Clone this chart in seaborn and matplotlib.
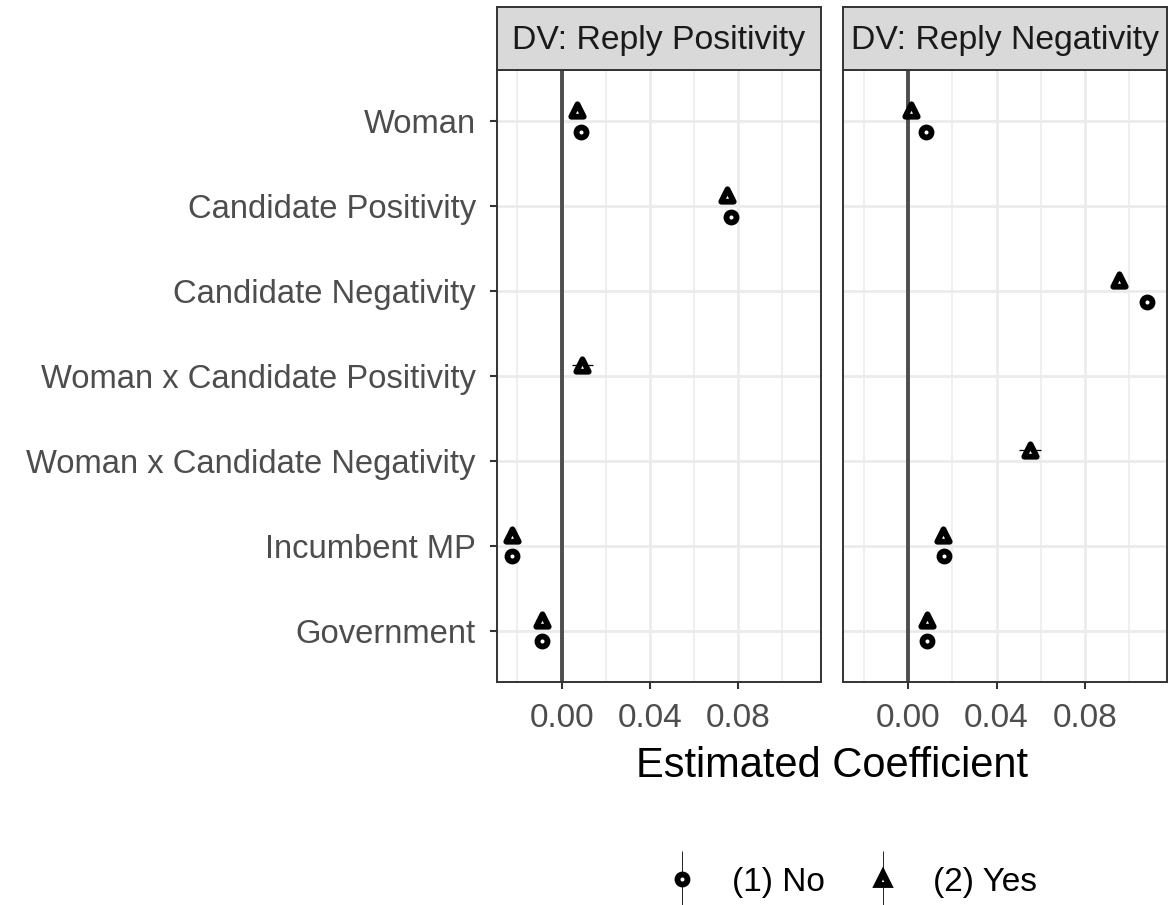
import numpy as np
import pandas as pd
import matplotlib
matplotlib.use("Agg")
import matplotlib.pyplot as plt
import seaborn as sns
from matplotlib.lines import Line2D
from matplotlib.legend_handler import HandlerTuple

# ---------------- data ----------------
terms = ["Woman", "Candidate Positivity", "Candidate Negativity",
         "Woman x Candidate Positivity", "Woman x Candidate Negativity",
         "Incumbent MP", "Government"]
panels = ["DV: Reply Positivity", "DV: Reply Negativity"]
models = ["(1) No", "(2) Yes"]
nan = np.nan

# DV: Reply Positivity
pos_no = [0.0086, 0.0768, nan, nan, nan, -0.0224, -0.0091]
pos_no_lo = [0.0076, 0.0755, nan, nan, nan, -0.0227, -0.0095]
pos_no_hi = [0.0096, 0.0781, nan, nan, nan, -0.0221, -0.0087]
pos_yes = [0.0068, 0.0750, nan, 0.0094, nan, -0.0224, -0.0091]
pos_yes_lo = [0.0058, 0.0737, nan, 0.0046, nan, -0.0227, -0.0095]
pos_yes_hi = [0.0078, 0.0763, nan, 0.0142, nan, -0.0221, -0.0087]

# DV: Reply Negativity
neg_no = [0.0080, nan, 0.1082, nan, nan, 0.0162, 0.0083]
neg_no_lo = [0.0070, nan, 0.1058, nan, nan, 0.0157, 0.0079]
neg_no_hi = [0.0090, nan, 0.1106, nan, nan, 0.0167, 0.0087]
neg_yes = [0.0012, nan, 0.0954, nan, 0.0552, 0.0158, 0.0083]
neg_yes_lo = [0.0002, nan, 0.0934, nan, 0.0503, 0.0153, 0.0079]
neg_yes_hi = [0.0022, nan, 0.0974, nan, 0.0601, 0.0163, 0.0087]

xticks = [0.00, 0.04, 0.08]
xtick_labels = ["0.00", "0.04", "0.08"]
minor_xticks = [-0.02, 0.02, 0.06, 0.10]

rows = []
for panel, series in [
    (panels[0], [(models[0], pos_no, pos_no_lo, pos_no_hi),
                 (models[1], pos_yes, pos_yes_lo, pos_yes_hi)]),
    (panels[1], [(models[0], neg_no, neg_no_lo, neg_no_hi),
                 (models[1], neg_yes, neg_yes_lo, neg_yes_hi)]),
]:
    for model, est, lo, hi in series:
        for i, t in enumerate(terms):
            rows.append(dict(panel=panel, model=model, term=t, idx=i,
                             est=est[i], lo=lo[i], hi=hi[i]))
df = pd.DataFrame(rows).dropna()

# ---------------- style ----------------
sns.set_theme(style="white")
plt.rcParams["font.family"] = ["Liberation Sans", "DejaVu Sans"]

W, H = 1174, 905
fig = plt.figure(figsize=(W / 100, H / 100), dpi=100)

dodge = {models[0]: 0.125, models[1]: -0.125}
marker_map = {models[0]: "o", models[1]: "^"}
size_map = {models[0]: 52, models[1]: 80}

border = "#333333"
grid_c = "#EBEBEB"
txt_c = "#4D4D4D"

ax_y0 = 1 - 681.7 / H
ax_h = (681.7 - 70) / H
ax_w = 324 / W
ax_x = [496.7 / W, 843.3 / W]
strip_h = (70 - 6.7) / H

for k, panel in enumerate(panels):
    ax = fig.add_axes([ax_x[k], ax_y0, ax_w, ax_h])
    sub = df[df.panel == panel].copy()
    sub["y"] = sub["idx"] + sub["model"].map(dodge)

    ax.set_xlim(-0.0294, 0.1173)
    ax.set_ylim(6.6, -0.6)

    # grid
    ax.set_xticks(xticks)
    ax.set_xticks(minor_xticks, minor=True)
    ax.set_yticks(range(len(terms)))
    ax.grid(True, which="major", color=grid_c, lw=2.0, zorder=0)
    ax.grid(True, which="minor", axis="x", color=grid_c, lw=1.1, zorder=0)
    ax.set_axisbelow(True)

    # zero line
    ax.axvline(0, color=txt_c, lw=2.8, zorder=1)

    # intervals
    ax.hlines(sub["y"], sub["lo"], sub["hi"], color="black", lw=0.9, zorder=2)

    # points
    for m in models:
        sm = sub[sub.model == m]
        sns.scatterplot(data=sm, x="est", y="y", ax=ax, marker=marker_map[m],
                        s=size_map[m], color="white", edgecolor="black",
                        linewidth=4.2, zorder=3, legend=False)

    ax.set_xlabel("")
    ax.set_ylabel("")
    ax.set_xticklabels(xtick_labels, fontsize=24, color=txt_c)
    if k == 0:
        ax.set_yticklabels(terms, fontsize=23.6, color=txt_c)
        ax.tick_params(axis="y", which="major", length=5, width=1.5,
                       color=border, pad=10, left=True)
    else:
        ax.set_yticklabels([])
        ax.tick_params(axis="y", which="major", length=0, left=False)
    ax.tick_params(axis="x", which="major", length=5, width=1.5,
                   color=border, pad=10, bottom=True)
    ax.tick_params(axis="x", which="minor", length=0)
    for sp in ax.spines.values():
        sp.set_color(border)
        sp.set_linewidth(1.4)
        sp.set_visible(True)

    # strip
    sax = fig.add_axes([ax_x[k], ax_y0 + ax_h, ax_w, strip_h])
    sax.set_facecolor("#D9D9D9")
    sax.set_xticks([])
    sax.set_yticks([])
    for sp in sax.spines.values():
        sp.set_color(border)
        sp.set_linewidth(1.4)
        sp.set_visible(True)
    sax.text(0.5, 0.47, panel, ha="center", va="center", fontsize=24.3,
             color="#1A1A1A", transform=sax.transAxes)

fig.text((496.7 + 1166.7) / 2 / W, 1 - 777 / H, "Estimated Coefficient",
         ha="center", va="baseline", fontsize=30, color="black")

# legend
handles = []
for m in models:
    vline = Line2D([], [], marker="|", markersize=40, color="black",
                   mew=0.6, linestyle="None")
    pt = Line2D([], [], marker=marker_map[m],
                markersize=7.2 if m == models[0] else 8.9,
                mfc="white", mec="black", mew=4.2, linestyle="None")
    handles.append((vline, pt))
fig.legend(handles, models, handler_map={tuple: HandlerTuple(ndivide=1)},
           loc="center", bbox_to_anchor=(851 / W, 1 - 882 / H), ncol=2,
           frameon=False, fontsize=24, handlelength=1.0,
           handletextpad=1.0, columnspacing=1.25, labelcolor="black")

fig.savefig("out.png", dpi=100)
